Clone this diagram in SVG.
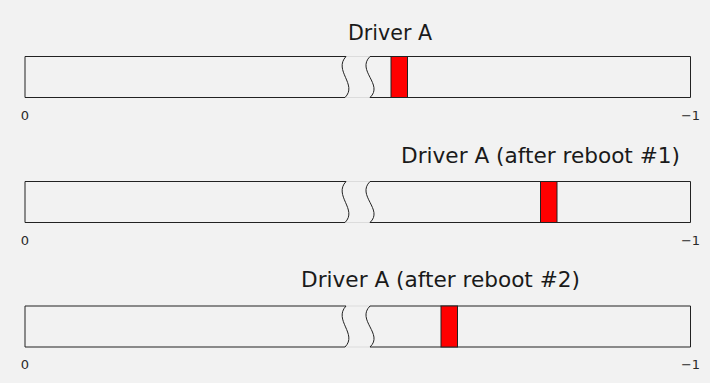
<svg xmlns="http://www.w3.org/2000/svg" width="710" height="383" viewBox="0 0 710 383">
<style>
.bg{fill:#f2f2f2}
.edge{fill:none;stroke:#222;stroke-width:1}
.faint{fill:none;stroke:#dcdcdc;stroke-width:1}
.mark{fill:#ff0000;stroke:#222;stroke-width:1}
.title{font-family:"DejaVu Sans",sans-serif;font-size:21px;fill:#1a1a1a}
.tick{font-family:"DejaVu Sans",sans-serif;font-size:13px;fill:#2a2a2a;text-anchor:middle}
</style>
<defs>
<g id="bar">
<path class="faint" d="M346,0 H370 M345,41 H370"/>
<path class="edge" d="M346,0 H25 V41 H345"/>
<path class="edge" d="M346,0 C333,14 358,28 345,41"/>
<path class="edge" d="M370,0 H690.5 V41 H370"/>
<path class="edge" d="M370,0 C356,14 384,28 370,41"/>
</g>
</defs>
<rect class="bg" x="0" y="0" width="710" height="383"/>
<g id="bar1">
<use href="#bar" transform="translate(0,56.5)"/>
<rect class="mark" x="391" y="56.5" width="16.5" height="41"/>
<text class="title" x="348" y="39.5" textLength="84" lengthAdjust="spacingAndGlyphs">Driver A</text>
<text class="tick" x="25" y="119.5">0</text>
<text class="tick" x="690.5" y="119.5">−1</text>
</g>
<g id="bar2">
<use href="#bar" transform="translate(0,181.5)"/>
<rect class="mark" x="540.5" y="181.5" width="16.5" height="41"/>
<text class="title" x="401" y="163" textLength="279" lengthAdjust="spacingAndGlyphs">Driver A (after reboot #1)</text>
<text class="tick" x="25" y="244.5">0</text>
<text class="tick" x="690.5" y="244.5">−1</text>
</g>
<g id="bar3">
<use href="#bar" transform="translate(0,306)"/>
<rect class="mark" x="441" y="306" width="16.5" height="41"/>
<text class="title" x="301" y="287" textLength="279" lengthAdjust="spacingAndGlyphs">Driver A (after reboot #2)</text>
<text class="tick" x="25" y="368.5">0</text>
<text class="tick" x="690.5" y="368.5">−1</text>
</g>
<g id="connectors"/>
</svg>
